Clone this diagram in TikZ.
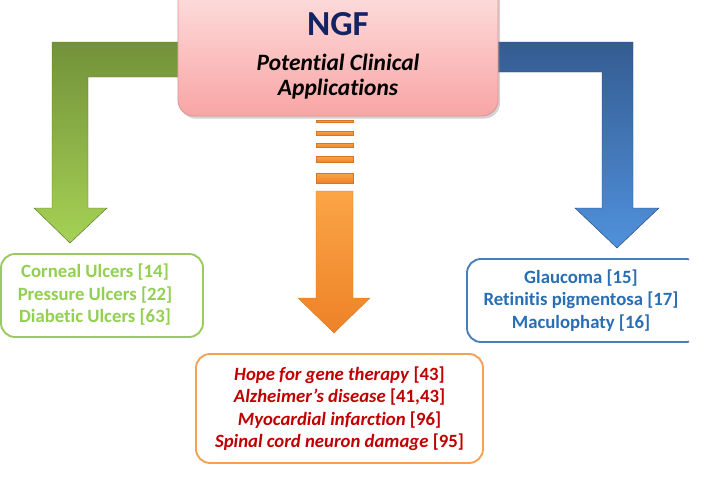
\documentclass[tikz,border=0pt]{standalone}
\usepackage{fontspec}
\setmainfont{Carlito}[Ligatures={NoCommon}]
\usetikzlibrary{shadows}
\definecolor{pinktop}{RGB}{255,230,230}
\definecolor{pinkbot}{RGB}{248,165,165}
\definecolor{pinkline}{RGB}{225,150,150}
\definecolor{navy}{RGB}{20,35,100}
\definecolor{greentop}{RGB}{115,145,58}
\definecolor{greenbot}{RGB}{165,210,85}
\definecolor{greentext}{RGB}{146,208,80}
\definecolor{greenline}{RGB}{155,200,95}
\definecolor{bluetop}{RGB}{52,92,145}
\definecolor{bluebot}{RGB}{80,145,220}
\definecolor{bluetext}{RGB}{40,110,180}
\definecolor{blueline}{RGB}{75,125,185}
\definecolor{orangetop}{RGB}{250,165,70}
\definecolor{orangebot}{RGB}{238,130,40}
\definecolor{orangeline}{RGB}{245,160,85}
\definecolor{redtext}{RGB}{192,0,0}

\begin{document}
\begin{tikzpicture}[x=0.03cm, y=-0.03cm,
    listbox/.style={rounded corners=0.42cm, line width=1.6pt, fill=white},
    listtext/.style={align=center, font=\bfseries\fontsize{16}{19.2}\selectfont},
    titletext/.style={font=\bfseries\itshape\fontsize{20}{24}\selectfont},
    greenarrow/.style={top color=greentop, bottom color=greenbot, draw=greentop!80!black, line width=0.4pt},
    bluearrow/.style={top color=bluetop, bottom color=bluebot, draw=bluetop!80!black, line width=0.4pt},
    orangearrow/.style={top color=orangetop, bottom color=orangebot, draw=orangebot!90!black, line width=0.3pt}]
    \useasboundingbox (0,0) rectangle (703,476);

    % block arrows
    \draw[greenarrow] (52,42) -- (200,42) -- (200,77) -- (88,77) -- (88,208) -- (107,208)
        -- (70,243) -- (34,208) -- (52,208) -- cycle;
    \draw[bluearrow] (470,42) -- (633,42) -- (633,208) -- (659,208) -- (617,248)
        -- (575,208) -- (602,208) -- (602,72) -- (470,72) -- cycle;
    \foreach \ya/\yb in {120/122.5, 131/135.5, 143/147.5, 156/162.5, 173/183}
        \fill[orangearrow] (316,\ya) rectangle (353,\yb);
    \draw[orangearrow] (316,191) -- (353,191) -- (353,298) -- (370,298) -- (334,333)
        -- (298,298) -- (316,298) -- cycle;

    % title box
    \node[draw=pinkline, line width=0.8pt, rounded corners=0.48cm, top color=pinktop, bottom color=pinkbot,
        drop shadow={opacity=0.35, shadow xshift=0.06cm, shadow yshift=-0.08cm},
        minimum width=9.6cm, minimum height=4.38cm] (ngf) at (338,43) {};
    \node[font=\bfseries\fontsize{30}{32}\selectfont, text=navy] (ngftitle) at (338,24) {NGF};
    \node[titletext] (ngfsub) at (338,62) {Potential Clinical};
    \node[titletext] (ngfsub2) at (338,89) {Applications};

    % application boxes
    \draw[listbox, draw=greenline] (1,254) rectangle (203,337);
    \node[listtext, text=greentext] (ulcers) at (95,295)
        {Corneal Ulcers [14]\\Pressure Ulcers [22]\\Diabetic Ulcers [63]};
    \begin{scope}
        \clip (0,0) rectangle (689,476);
        \draw[listbox, draw=blueline] (467,259) rectangle (700,342);
    \end{scope}
    \node[listtext, text=bluetext] (eyes) at (581,300.5)
        {Glaucoma [15]\\Retinitis pigmentosa [17]\\Maculophaty [16]};
    \draw[listbox, draw=orangeline] (196,354) rectangle (483,463);
    \node[listtext, text=redtext] (other) at (339.5,408.5)
        {\textit{Hope for gene therapy} [43]\\\textit{Alzheimer’s disease} [41,43]\\
        \textit{Myocardial infarction} [96]\\\textit{Spinal cord neuron damage} [95]};
\end{tikzpicture}
\end{document}
